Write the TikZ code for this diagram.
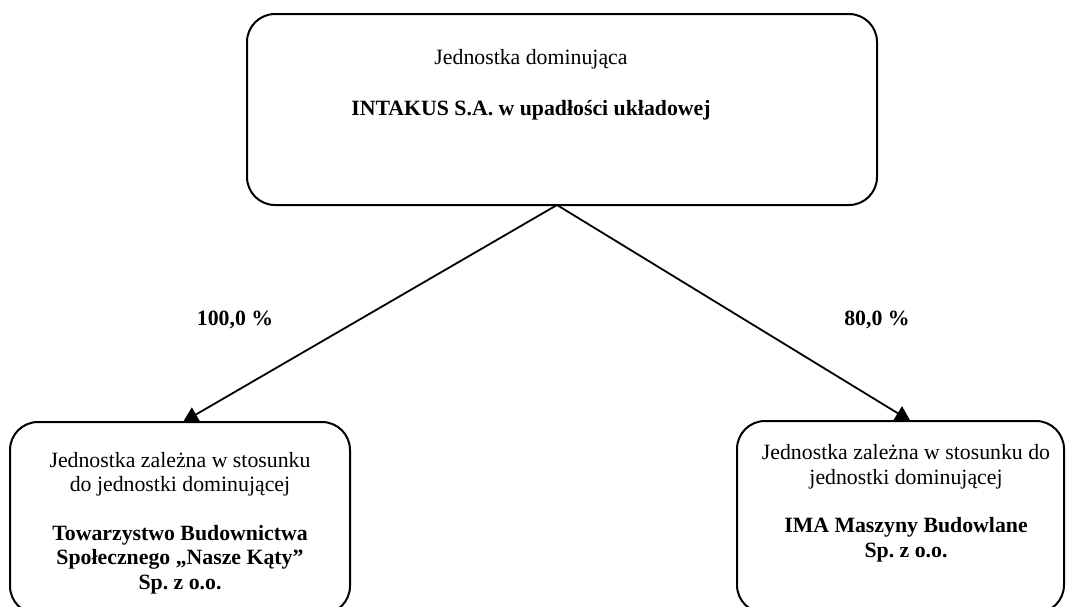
\documentclass[tikz,border=0pt]{standalone}
\usepackage{fontspec}
\setmainfont{Liberation Serif}
\usetikzlibrary{arrows.meta,backgrounds}
\frenchspacing
\begin{document}
\begin{tikzpicture}[x=1pt,y=-1pt,
  box/.style={draw, fill=white, line width=2pt, rounded corners=28pt, inner sep=0pt, outer sep=0pt},
  txt/.style={font=\fontsize{21.8}{24.5}\selectfont, align=center, inner sep=0pt, anchor=base},
  pct/.style={font=\fontsize{21.8}{24.5}\selectfont\bfseries, inner sep=0pt, anchor=base},
  link/.style={line width=1.8pt, -{Triangle[width=16pt,length=15pt]}}]
\useasboundingbox (0,0) rectangle (1066,606);
% boxes
\node[box, minimum width=630pt, minimum height=191pt] (top) at (562,109.5) {};
\node[box, minimum width=340pt, minimum height=192pt] (left) at (180,518) {};
\node[box, minimum width=327pt, minimum height=192pt] (right) at (900.5,517) {};
% texts (anchored at the baseline of their last line)
\node[txt] (toptxt) at (531,115) {Jednostka dominująca\\[26.5pt]\textbf{INTAKUS S.A. w upadłości układowej}};
\node[txt] (lefttxt) at (180,589) {Jednostka zależna w stosunku\\do jednostki dominującej\\[24pt]\textbf{Towarzystwo Budownictwa}\\\textbf{Społecznego „Nasze Kąty”}\\\textbf{Sp. z o.o.}};
\node[txt] (righttxt) at (906,557) {Jednostka zależna w stosunku do\\jednostki dominującej\\[24pt]\textbf{IMA Maszyny Budowlane}\\\textbf{Sp. z o.o.}};
\node[pct] (pl) at (235,325) {100,0 \%};
\node[pct] (pr) at (877,325) {80,0 \%};
% connectors
\begin{scope}[on background layer]
\draw[link] ([xshift=-5pt]top.south) -- ([xshift=3pt]left.north);
\draw[link] ([xshift=-5pt]top.south) -- ([xshift=10pt]right.north);
\end{scope}
\end{tikzpicture}
\end{document}
